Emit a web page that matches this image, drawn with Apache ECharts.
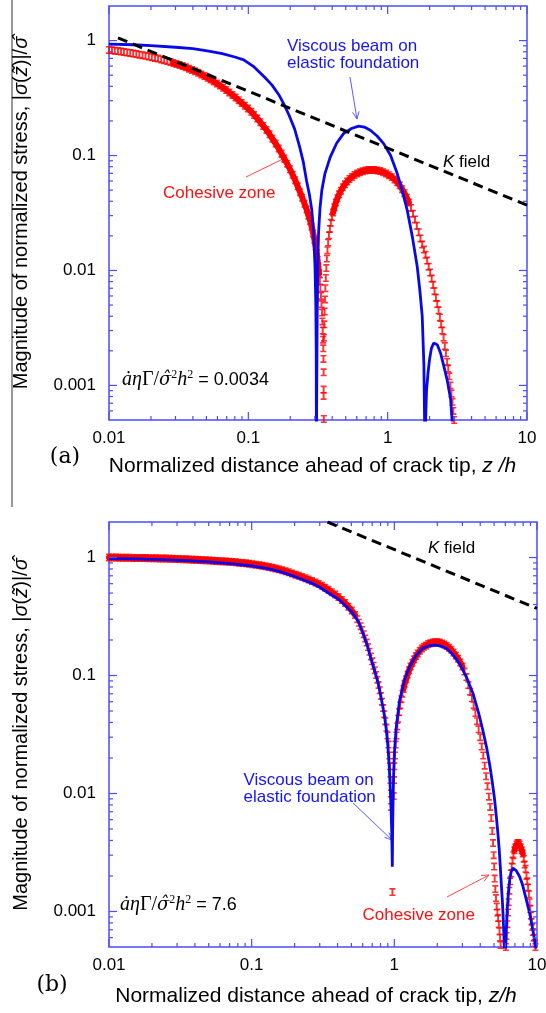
<!DOCTYPE html>
<html><head><meta charset="utf-8">
<script src="https://cdn.jsdelivr.net/npm/echarts@6/dist/echarts.min.js"></script>
<style>html,body{margin:0;padding:0;background:#fff}#c{width:546px;height:1013px}</style>
</head><body><div id="c"></div><script>
// ---------------- data ----------------
const xTickLabels = ['0.01', '0.1', '1', '10'];
const yTickLabels = ['0.001', '0.01', '0.1', '1'];
const xMinorTicks = [0.02,0.03,0.04,0.05,0.06,0.07,0.08,0.09,0.2,0.3,0.4,0.5,0.6,0.7,0.8,0.9,2,3,4,5,6,7,8,9];
const yMinorTicks = [0.0006,0.0007,0.0008,0.0009,0.002,0.003,0.004,0.005,0.006,0.007,0.008,0.009,0.02,0.03,0.04,0.05,0.06,0.07,0.08,0.09,0.2,0.3,0.4,0.5,0.6,0.7,0.8,0.9];

// panel (a)
const kFieldA = [[0.0116, 1.055], [10, 0.037]];
const beamA = [
[0.010,0.93],[0.015,0.92],[0.020,0.905],[0.030,0.875],[0.040,0.85],[0.052,0.81],[0.065,0.77],[0.080,0.72],[0.0927,0.68],[0.110,0.59],[0.131,0.48],[0.148,0.41],[0.165,0.34],[0.180,0.28],[0.196,0.224],[0.215,0.17],[0.233,0.12],[0.248,0.088],[0.262,0.06],[0.275,0.045],[0.285,0.034],[0.294,0.022],[0.301,0.0107],[0.305,0.005],[0.307,0.002],[0.308,0.0003],
[0.310,0.0003],[0.312,0.004],[0.315,0.011],[0.319,0.021],[0.327,0.035],[0.337,0.05],[0.355,0.07],[0.387,0.097],[0.43,0.128],[0.482,0.155],[0.55,0.172],[0.618,0.18],[0.68,0.177],[0.751,0.166],[0.84,0.148],[0.936,0.127],[1.05,0.1],[1.17,0.07],[1.27,0.05],[1.38,0.0336],[1.5,0.02],[1.63,0.0108],[1.7,0.0068],[1.77,0.004],[1.82,0.0015],[1.85,0.0003],
[1.88,0.0003],[1.9,0.0009],[1.95,0.0013],[2.0,0.0017],[2.06,0.0021],[2.14,0.00234],[2.27,0.00226],[2.4,0.0019],[2.53,0.00147],[2.68,0.0011],[2.83,0.00076],[2.9,0.0005],[2.95,0.0003]
];
const cohesiveA = [
[0.0100,0.83],[0.0105,0.823],[0.0110,0.817],[0.0116,0.81],[0.0122,0.803],[0.0128,0.796],[0.0135,0.788],[0.0142,0.78],[0.0149,0.772],[0.0157,0.763],[0.0165,0.755],[0.0174,0.746],[0.0183,0.737],[0.0193,0.727],[0.0203,0.717],[0.0214,0.707],[0.0225,0.697],[0.0237,0.686],[0.0249,0.675],[0.0262,0.664],[0.0276,0.652],[0.029,0.64],[0.0305,0.627],[0.0321,0.614],[0.0338,0.6],[0.0356,0.585],[0.0375,0.57],[0.0395,0.555],[0.0415,0.54],[0.0437,0.524],[0.046,0.508],[0.0484,0.492],[0.051,0.475],[0.0537,0.458],[0.0565,0.441],[0.0595,0.424],[0.0626,0.406],[0.0659,0.389],[0.0694,0.371],[0.073,0.354],[0.0769,0.337],[0.081,0.32],[0.0852,0.303],[0.0897,0.287],[0.0944,0.271],[0.0994,0.256],[0.105,0.24],[0.11,0.225],[0.116,0.21],[0.122,0.195],[0.128,0.181],[0.135,0.167],[0.142,0.153],[0.149,0.14],[0.157,0.127],[0.165,0.115],[0.173,0.104],[0.181,0.094],[0.19,0.085],[0.199,0.076],[0.208,0.068],[0.217,0.061],[0.226,0.054],[0.235,0.048],[0.244,0.043],[0.253,0.038],[0.262,0.034],[0.27,0.03],[0.278,0.027],[0.285,0.024],[0.292,0.021],[0.298,0.0185],[0.304,0.0162],[0.309,0.0142],[0.314,0.0124],[0.318,0.0108],[0.322,0.0094],[0.326,0.0081],[0.329,0.007],[0.332,0.006],[0.335,0.0051],[0.338,0.0043],[0.34,0.0036],[0.342,0.003],[0.344,0.0025],[0.345,0.0021],[0.346,0.0017],[0.347,0.0013],[0.347,0.00092],[0.347,0.00081],[0.348,0.00051],
[0.349,0.0026],[0.351,0.0034],[0.353,0.0044],[0.355,0.0056],[0.357,0.007],[0.36,0.0086],[0.363,0.0105],[0.366,0.0127],[0.37,0.015],[0.374,0.0175],[0.379,0.0202],[0.385,0.023],[0.391,0.026],[0.398,0.029],[0.406,0.032],[0.415,0.0355],[0.425,0.039],[0.436,0.0425],[0.448,0.046],[0.462,0.0495],[0.477,0.053],[0.494,0.0562],[0.512,0.0595],[0.532,0.0625],[0.554,0.0652],[0.578,0.0677],[0.604,0.0698],[0.632,0.0716],[0.662,0.073],[0.694,0.074],[0.728,0.0747],[0.764,0.075],[0.802,0.0748],[0.842,0.0742],[0.884,0.0732],[0.928,0.0717],[0.974,0.0698],[1.02,0.0675],[1.07,0.065],[1.12,0.062],[1.17,0.0585],[1.22,0.055],[1.27,0.051],[1.32,0.047],[1.37,0.043],[1.42,0.039],[1.47,0.035],[1.52,0.0312],[1.57,0.0278],[1.62,0.0245],[1.67,0.0215],[1.72,0.019],[1.77,0.0168],[1.82,0.0152],[1.87,0.0137],[1.92,0.0122],[1.97,0.0108],[2.02,0.0096],[2.07,0.0085],[2.12,0.0075],[2.17,0.0066],[2.22,0.0058],[2.27,0.0051],[2.32,0.0045],[2.37,0.0039],[2.42,0.0034],[2.47,0.003],[2.52,0.0026],[2.57,0.0022],[2.62,0.0019],[2.67,0.0016],[2.72,0.0014],[2.77,0.0012],[2.82,0.001],[2.87,0.00085],[2.92,0.00072],[2.96,0.0006],[3.0,0.0005]
];
// x-ranges where the cohesive-zone markers overlap into a solid band
const bandRangesA = [[0.028, 0.325], [0.40, 1.42]];

// panel (b)
const kFieldB = [[0.34, 2.0], [10, 0.37]];
const beamB = [
[0.01,0.98],[0.015,0.972],[0.02,0.965],[0.0252,0.955],[0.035,0.94],[0.05,0.92],[0.074,0.885],[0.1,0.85],[0.13,0.805],[0.16,0.755],[0.19,0.705],[0.217,0.664],[0.26,0.61],[0.30,0.56],[0.35,0.495],[0.414,0.435],[0.46,0.385],[0.513,0.336],[0.56,0.285],[0.603,0.227],[0.65,0.175],[0.69,0.135],[0.73,0.108],[0.768,0.0875],[0.81,0.064],[0.855,0.0447],[0.88,0.034],[0.902,0.0249],[0.92,0.0175],[0.935,0.0115],[0.95,0.007],[0.96,0.0045],[0.968,0.0024],
[0.972,0.0045],[0.978,0.0075],[0.986,0.013],[1.0,0.0215],[1.03,0.036],[1.09,0.062],[1.18,0.092],[1.28,0.119],[1.42,0.148],[1.58,0.17],[1.75,0.179],[1.92,0.181],[2.1,0.178],[2.31,0.17],[2.55,0.152],[2.87,0.126],[3.2,0.097],[3.56,0.0705],[3.9,0.048],[4.18,0.034],[4.45,0.024],[4.66,0.0175],[4.86,0.0125],[5.05,0.0088],[5.2,0.0062],[5.32,0.0046],[5.43,0.0034],[5.53,0.0024],[5.62,0.0017],[5.71,0.00126],[5.78,0.00095],[5.84,0.0007],[5.9,0.0005],[5.95,0.0003],
[6.02,0.0003],[6.1,0.0007],[6.2,0.0011],[6.32,0.0015],[6.45,0.0019],[6.6,0.00218],[6.78,0.00233],[6.95,0.0023],[7.15,0.00222],[7.55,0.00198],[7.9,0.0017],[8.19,0.00143],[8.5,0.0012],[8.87,0.00097],[9.1,0.00083],[9.35,0.0007],[9.6,0.00058],[9.85,0.00047],[10,0.00042]
];
const cohesiveB = [
[0.01,1.0],[0.0106,0.999],[0.0112,0.998],[0.0118,0.997],[0.0125,0.996],[0.0132,0.995],[0.0139,0.994],[0.0147,0.993],[0.0155,0.992],[0.0164,0.991],[0.0173,0.99],[0.0182,0.989],[0.0192,0.988],[0.0203,0.987],[0.0214,0.985],[0.0226,0.983],[0.0238,0.981],[0.0251,0.979],[0.0265,0.977],[0.028,0.975],[0.0295,0.973],[0.0311,0.97],[0.0329,0.968],[0.0347,0.965],[0.0366,0.962],[0.0386,0.959],[0.0407,0.956],[0.043,0.953],[0.0453,0.95],[0.0478,0.947],[0.0505,0.944],[0.0532,0.94],[0.0562,0.936],[0.0593,0.932],[0.0625,0.928],[0.066,0.924],[0.0696,0.92],[0.0734,0.915],[0.0775,0.91],[0.0817,0.905],[0.0862,0.899],[0.091,0.892],[0.096,0.886],[0.101,0.879],[0.107,0.87],[0.113,0.861],[0.119,0.852],[0.125,0.843],[0.132,0.833],[0.14,0.82],[0.147,0.808],[0.155,0.795],[0.164,0.78],[0.173,0.765],[0.182,0.75],[0.192,0.733],[0.203,0.716],[0.214,0.699],[0.226,0.683],[0.238,0.667],[0.251,0.65],[0.265,0.632],[0.28,0.613],[0.295,0.595],[0.311,0.576],[0.328,0.555],[0.346,0.532],[0.365,0.508],[0.385,0.485],[0.406,0.462],[0.429,0.437],[0.452,0.412],[0.477,0.383],[0.503,0.355],[0.53,0.325],
[0.55,0.3],[0.565,0.28],[0.58,0.262],[0.595,0.243],[0.61,0.224],[0.625,0.206],[0.64,0.19],[0.655,0.174],[0.67,0.159],[0.685,0.145],[0.7,0.132],[0.715,0.121],[0.73,0.111],[0.745,0.101],[0.76,0.092],[0.775,0.083],[0.79,0.075],[0.805,0.067],[0.82,0.06],[0.835,0.053],[0.85,0.047],[0.865,0.041],[0.88,0.036],[0.895,0.031],[0.91,0.026],[0.922,0.021],[0.932,0.017],[0.94,0.013],[0.946,0.01],[0.95,0.0077],[0.97,0.00146],
[0.99,0.0095],[0.995,0.013],[1.0,0.017],[1.01,0.021],[1.02,0.026],[1.035,0.031],[1.05,0.037],[1.065,0.043],[1.08,0.049],[1.1,0.056],[1.12,0.063],[1.14,0.07],[1.16,0.077],[1.18,0.085],[1.21,0.093],[1.24,0.102],[1.27,0.111],[1.3,0.119],[1.34,0.128],[1.38,0.137],[1.42,0.146],[1.46,0.154],[1.51,0.162],[1.56,0.169],[1.61,0.175],[1.67,0.18],[1.73,0.185],[1.79,0.188],[1.86,0.19],[1.93,0.191],[2.0,0.191],[2.08,0.19],[2.16,0.187],[2.24,0.183],[2.33,0.178],[2.42,0.172],[2.51,0.165],[2.6,0.157],[2.7,0.148],[2.8,0.139],[2.9,0.129],[3.0,0.119],[3.1,0.108],[3.2,0.097],[3.3,0.083],[3.4,0.073],[3.5,0.064],[3.6,0.056],[3.7,0.048],[3.8,0.041],[3.9,0.035],[4.0,0.03],[4.1,0.025],[4.2,0.021],[4.3,0.0172],[4.4,0.014],[4.5,0.0115],[4.6,0.0094],[4.7,0.0077],[4.78,0.0062],[4.86,0.0048],[4.92,0.0038],[4.97,0.003],[5.01,0.0024],[5.05,0.0019],[5.1,0.00155],[5.16,0.0013],[5.22,0.0011],[5.28,0.00098],[5.34,0.00088],[5.4,0.00078],[5.46,0.00068],[5.51,0.0006],[5.56,0.00052],
[6.05,0.0005],[6.12,0.00062],[6.2,0.00078],[6.27,0.00098],[6.33,0.0012],[6.4,0.0015],[6.48,0.0018],[6.56,0.0021],[6.65,0.0024],[6.74,0.0027],[6.84,0.003],[6.95,0.0033],[7.06,0.0035],[7.18,0.0037],[7.3,0.0038],[7.43,0.0038],[7.56,0.0037],[7.69,0.0035],[7.82,0.0033],[7.95,0.0031],[8.08,0.0028],[8.2,0.0025],[8.32,0.0023],[8.44,0.002],[8.55,0.0018],[8.66,0.0016],[8.77,0.0014],[8.87,0.0012],[8.97,0.00105],[9.07,0.00092],[9.17,0.00082],[9.27,0.00074],[9.37,0.00067],[9.5,0.0006],[9.62,0.00054],[9.75,0.0005]
];
const bandRangesB = [[0.01, 0.53], [1.16, 3.05], [6.9, 8.0]];

// ---------------- chart ----------------
const FRAME = '#4c4cff';
const BLUE = '#0808e8';
const RED = '#ff0000';
const SANS = '"Liberation Sans", Arial, Helvetica, sans-serif';
const SERIF = '"Liberation Serif", "Times New Roman", serif';
const DSERIF = '"DejaVu Serif", serif';
const IBEAM = 'path://M0,0H10V2H6.6V8H10V10H0V8H3.4V2H0Z';

function fmt(labels) {
  return function (v) {
    for (const s of labels) {
      if (Math.abs(Math.log10(v) - Math.log10(Number(s))) < 1e-6) return s;
    }
    return '';
  };
}

function tickSeries(g, vals, dir, len) {
  return {
    type: 'custom', xAxisIndex: g, yAxisIndex: g, silent: true, z: 10, clip: false,
    data: vals.map(v => dir === 'x' ? [v, 1] : [1, v]),
    renderItem: function (params, api) {
      const cs = params.coordSys;
      const p = api.coord([api.value(0), api.value(1)]);
      const st = { stroke: FRAME, lineWidth: 1.2, fill: null };
      if (dir === 'x') {
        const x = p[0];
        const b = cs.y + cs.height, t = cs.y;
        return { type: 'group', children: [
          { type: 'line', shape: { x1: x, y1: b, x2: x, y2: b - len }, style: st },
          { type: 'line', shape: { x1: x, y1: t, x2: x, y2: t + len }, style: st } ] };
      }
      const y = p[1];
      const l = cs.x, r = cs.x + cs.width;
      return { type: 'group', children: [
        { type: 'line', shape: { x1: l, y1: y, x2: l + len, y2: y }, style: st },
        { type: 'line', shape: { x1: r, y1: y, x2: r - len, y2: y }, style: st } ] };
    }
  };
}

function xAxisCfg(g, name, gap, padRight) {
  return {
    type: 'log', logBase: 10, gridIndex: g, min: 0.01, max: 10,
    axisLine: { show: false }, axisTick: { show: false }, splitLine: { show: false },
    axisLabel: { formatter: fmt(xTickLabels), fontSize: 17, color: '#000', fontFamily: SANS, margin: 10, showMinLabel: true, showMaxLabel: true },
    name: name, nameLocation: 'middle', nameGap: gap,
    nameTextStyle: { fontSize: 21, fontFamily: SANS, color: '#000', padding: [0, padRight, 0, 0],
      rich: { i: { fontSize: 21, fontFamily: SANS, fontStyle: 'italic', color: '#000' } } }
  };
}
function yAxisCfg(g, gap) {
  return {
    type: 'log', logBase: 10, gridIndex: g, min: 0.0005, max: 2,
    axisLine: { show: false }, axisTick: { show: false }, splitLine: { show: false },
    axisLabel: { formatter: fmt(yTickLabels), fontSize: 17, color: '#000', fontFamily: SANS, margin: 13 },
    name: 'Magnitude of normalized stress, |{i|σ}({i|z\u0303})|/{i|σ\u0302}',
    nameLocation: 'middle', nameGap: gap, nameRotate: 90,
    nameTextStyle: { fontSize: 20, fontFamily: SANS, color: '#000',
      rich: { i: { fontSize: 20, fontFamily: SANS, fontStyle: 'italic', color: '#000' } } }
  };
}

function bandSeries(g, coh, ranges) {
  return ranges.map(r => ({
    type: 'line', xAxisIndex: g, yAxisIndex: g, showSymbol: false, clip: true, z: 2, silent: true,
    data: coh.filter(p => p[0] >= r[0] && p[0] <= r[1]),
    lineStyle: { color: RED, width: 6, cap: 'round', join: 'round' }
  }));
}

function panelSeries(g, kf, beam, coh, ranges) {
  return [].concat(bandSeries(g, coh, ranges), [
    { type: 'scatter', xAxisIndex: g, yAxisIndex: g, data: coh, symbol: IBEAM, symbolSize: [6, 8],
      itemStyle: { color: RED }, clip: true, z: 2, silent: true },
    { type: 'line', xAxisIndex: g, yAxisIndex: g, data: beam, showSymbol: false, clip: true, z: 3,
      lineStyle: { color: BLUE, width: 2.8 }, silent: true },
    { type: 'line', xAxisIndex: g, yAxisIndex: g, data: kf, showSymbol: false, clip: true, z: 4,
      lineStyle: { color: '#000', width: 3, type: [10, 6] }, silent: true },
    tickSeries(g, xTickLabels.map(Number), 'x', 8),
    tickSeries(g, yTickLabels.map(Number), 'y', 8),
    tickSeries(g, xMinorTicks, 'x', 4),
    tickSeries(g, yMinorTicks, 'y', 4)
  ]);
}

function arrow(x1, y1, x2, y2, color) {
  const a = Math.atan2(y2 - y1, x2 - x1);
  const L = 8, h = 0.42;
  const st = { stroke: color, lineWidth: 1, fill: null };
  return { type: 'group', silent: true, children: [
    { type: 'line', shape: { x1: x1, y1: y1, x2: x2, y2: y2 }, style: st },
    { type: 'polyline', shape: { points: [
      [x2 - L * Math.cos(a - h), y2 - L * Math.sin(a - h)], [x2, y2],
      [x2 - L * Math.cos(a + h), y2 - L * Math.sin(a + h)] ] }, style: st }
  ] };
}
function txt(x, y, text, opts) {
  return { type: 'text', x: x, y: y, silent: true,
    style: Object.assign({ text: text, fontSize: 17, fontFamily: SANS, fill: '#000', align: 'left', verticalAlign: 'middle' }, opts || {}) };
}
function mathText(x, y, value) {
  return { type: 'text', x: x, y: y, silent: true, style: {
    text: '{a|ȧη}{u|Γ/}{g|σ\u0302}{s|2}{a|h}{s|2}{n| = ' + value + '}',
    align: 'left', verticalAlign: 'middle', fill: '#000',
    rich: {
      a: { fontFamily: SERIF, fontStyle: 'italic', fontSize: 20, fill: '#000', lineHeight: 22 },
      g: { fontFamily: DSERIF, fontStyle: 'italic', fontSize: 18, fill: '#000', lineHeight: 22 },
      u: { fontFamily: SERIF, fontSize: 20, fill: '#000', lineHeight: 22 },
      s: { fontFamily: SERIF, fontSize: 12, fill: '#000', lineHeight: 12, verticalAlign: 'top' },
      n: { fontFamily: SANS, fontSize: 18, fill: '#000', lineHeight: 22 }
    } } };
}
const kRich = { k: { fontFamily: SANS, fontStyle: 'italic', fontSize: 17, fill: '#000' } };

const chart = echarts.init(document.getElementById('c'), null, { renderer: 'canvas' });
chart.setOption({
  animation: false,
  backgroundColor: '#fff',
  textStyle: { fontFamily: SANS },
  grid: [
    { left: 109, top: 6, width: 418, height: 414, show: true, borderColor: FRAME, borderWidth: 1.5, containLabel: false, outerBoundsMode: 'none' },
    { left: 109, top: 522, width: 428, height: 425, show: true, borderColor: FRAME, borderWidth: 1.5, containLabel: false, outerBoundsMode: 'none' }
  ],
  xAxis: [
    xAxisCfg(0, 'Normalized distance ahead of crack tip, {i|z /h}', 36, 11),
    xAxisCfg(1, 'Normalized distance ahead of crack tip, {i|z/h}', 39, 14)
  ],
  yAxis: [ yAxisCfg(0, 78), yAxisCfg(1, 78) ],
  series: [].concat(panelSeries(0, kFieldA, beamA, cohesiveA, bandRangesA), panelSeries(1, kFieldB, beamB, cohesiveB, bandRangesB)),
  graphic: { elements: [
    { type: 'line', silent: true, shape: { x1: 12, y1: 0, x2: 12, y2: 507 }, style: { stroke: '#333', lineWidth: 1 } },
    txt(65, 457, '(a)', { fontFamily: DSERIF, fontSize: 22, align: 'center' }),
    txt(52, 985, '(b)', { fontFamily: DSERIF, fontSize: 22, align: 'center' }),
    // panel (a) annotations
    txt(287, 38, 'Viscous beam on\nelastic foundation', { fill: '#1414ff', verticalAlign: 'top', lineHeight: 17 }),
    arrow(350, 77, 357, 119, '#5a5aff'),
    txt(443, 162, '{k|K} field', { rich: kRich }),
    txt(163, 193, 'Cohesive zone', { fill: '#ff1010' }),
    arrow(246, 177, 287, 157, '#ff4a4a'),
    mathText(122, 380, '0.0034'),
    // panel (b) annotations
    txt(428, 548, '{k|K} field', { rich: kRich }),
    txt(243.5, 771.5, 'Viscous beam on\nelastic foundation', { fill: '#1414ff', verticalAlign: 'top', lineHeight: 17 }),
    arrow(353, 803, 392, 840, '#5a5aff'),
    txt(362.5, 915, 'Cohesive zone', { fill: '#ff1010' }),
    arrow(447, 897, 489, 875, '#ff4a4a'),
    mathText(120, 905, '7.6')
  ] }
});
</script></body></html>
